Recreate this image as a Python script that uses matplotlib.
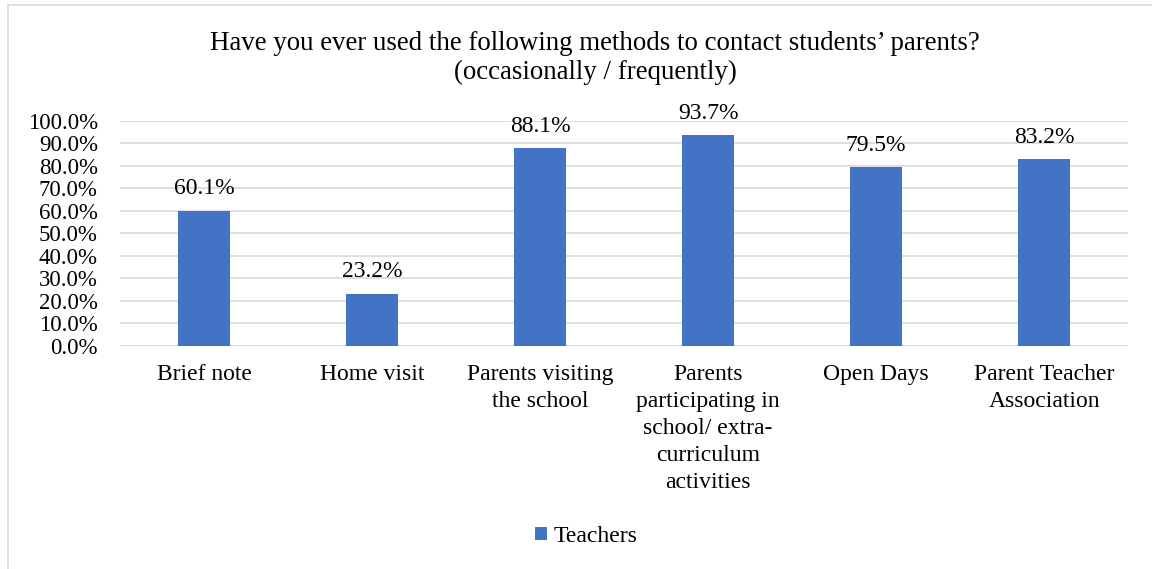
import matplotlib.pyplot as plt
from matplotlib.patches import Rectangle

plt.rcParams['font.family'] = ['Liberation Serif', 'DejaVu Serif']

categories = ['Brief note', 'Home visit', 'Parents visiting\nthe school',
              'Parents\nparticipating in\nschool/ extra-\ncurriculum\nactivities',
              'Open Days', 'Parent Teacher\nAssociation']
teachers = [60.1, 23.2, 88.1, 93.7, 79.5, 83.2]
yticks = [0, 10, 20, 30, 40, 50, 60, 70, 80, 90, 100]

fig = plt.figure(figsize=(11.52, 5.69), dpi=100)
ax = fig.add_axes([0.1042, 0.3924, 0.8750, 0.3949])

x = list(range(len(categories)))
bars = ax.bar(x, teachers, width=0.315, color='#4472C4', label='Teachers', zorder=3)
for xi, v in zip(x, teachers):
    ax.text(xi, v + 5, '%.1f%%' % v, ha='center', va='bottom', fontsize=17)

ax.set_xlim(-0.5, len(categories) - 0.5)
ax.set_ylim(0, 100)
ax.set_yticks(yticks)
ax.set_yticklabels(['%.1f%%' % t for t in yticks], fontsize=16.5)
ax.set_xticks(x)
ax.set_xticklabels(categories, fontsize=17, linespacing=1.38, va='top')
ax.tick_params(length=0)
ax.tick_params(axis='x', pad=13)
ax.tick_params(axis='y', pad=16)
ax.yaxis.grid(True, color='#D9D9D9', linewidth=1.2, zorder=0)
ax.set_axisbelow(True)
for s in ax.spines.values():
    s.set_visible(False)

fig.text(0.5165, 0.923, 'Have you ever used the following methods to contact students\u2019 parents?',
         ha='center', va='center', fontsize=19.4)
fig.text(0.5165, 0.872, '(occasionally / frequently)', ha='center', va='center', fontsize=19.4)

fig.legend(loc='center', bbox_to_anchor=(0.509, 0.057), frameon=False, fontsize=17,
           handlelength=0.5, handleheight=0.5, handletextpad=0.3)

fig.patches.append(Rectangle((8 / 1152, -0.1), 1.2, 1.1 - 5 / 569,
                             transform=fig.transFigure, fill=False,
                             edgecolor='#D9D9D9', linewidth=1.2))

fig.savefig('out.png', dpi=100)
